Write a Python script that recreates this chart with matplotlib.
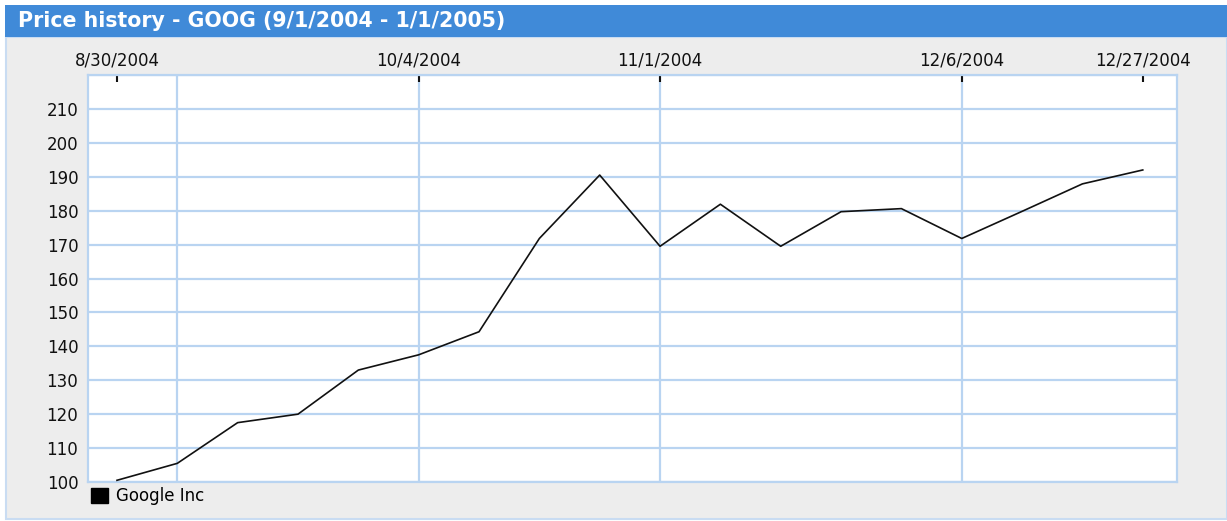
import matplotlib
matplotlib.use("Agg")
import matplotlib.pyplot as plt
import matplotlib.dates as mdates
from matplotlib.patches import Rectangle, Patch
import datetime as dt

# ---- data ----
dates = ["2004-08-30", "2004-09-06", "2004-09-13", "2004-09-20", "2004-09-27",
         "2004-10-04", "2004-10-11", "2004-10-18", "2004-10-25", "2004-11-01",
         "2004-11-08", "2004-11-15", "2004-11-22", "2004-11-29", "2004-12-06",
         "2004-12-13", "2004-12-20", "2004-12-27"]
prices = [100.5, 105.5, 117.5, 120.0, 133.0, 137.5, 144.3, 171.8, 190.5, 169.5,
          181.9, 169.5, 179.7, 180.6, 171.8, 179.8, 187.9, 192.0]
series_name = "Google Inc"
title = "Price history - GOOG (9/1/2004 - 1/1/2005)"
top_tick_dates = ["2004-08-30", "2004-10-04", "2004-11-01", "2004-12-06", "2004-12-27"]
top_tick_labels = ["8/30/2004", "10/4/2004", "11/1/2004", "12/6/2004", "12/27/2004"]
vgrid_dates = ["2004-09-06", "2004-10-04", "2004-11-01", "2004-12-06"]
y_ticks = list(range(100, 211, 10))

W, H = 1227, 521
fig = plt.figure(figsize=(W / 100, H / 100), dpi=100, facecolor="white")

BLUE = "#408AD8"
GRID = "#B9D4F1"
PANEL = "#EDEDED"

# panel background and title bar
fig.patches.append(Rectangle((6 / W, 2 / H), 1 - 6 / W, (519 - 37) / H,
                             transform=fig.transFigure, facecolor=PANEL,
                             edgecolor="#C9DCF2", linewidth=1.5, zorder=-10))
fig.patches.append(Rectangle((5 / W, (H - 37) / H), 1 - 5 / W, 32 / H,
                             transform=fig.transFigure, facecolor=BLUE,
                             edgecolor="none", zorder=-9))
fig.text(18 / W, (H - 21) / H, title, color="white", fontsize=14.8,
         fontweight="bold", va="center", ha="left", family="DejaVu Sans")

left, right, top, bottom = 88, 1177, 75, 482
ax = fig.add_axes([left / W, 1 - bottom / H, (right - left) / W, (bottom - top) / H])
ax.set_zorder(5)
ax.set_facecolor("white")

x = [mdates.date2num(dt.datetime.fromisoformat(d)) for d in dates]
x0 = mdates.date2num(dt.datetime(2004, 8, 30))
ax.set_xlim(x0 - 3.36, x0 + 122.97)
ax.set_ylim(100, 220)

# grid
for v in list(range(100, 221, 10)):
    ax.axhline(v, color=GRID, lw=1.6, zorder=1)
for d in vgrid_dates:
    ax.axvline(mdates.date2num(dt.datetime.fromisoformat(d)), color=GRID, lw=1.6, zorder=1)

ax.plot(x, prices, color="#111111", lw=1.2, zorder=3)

for s in ax.spines.values():
    s.set_color(GRID)
    s.set_linewidth(1.6)

ax.set_yticks(y_ticks)
ax.set_yticklabels([str(v) for v in y_ticks], fontsize=12)
ax.tick_params(axis="y", length=0, pad=7, colors="#111111")

ax.xaxis.tick_top()
ax.set_xticks([mdates.date2num(dt.datetime.fromisoformat(d)) for d in top_tick_dates])
ax.set_xticklabels(top_tick_labels, fontsize=12)
ax.tick_params(axis="x", direction="in", length=5, width=1.5, color="#111111",
               pad=4, labelcolor="#111111")
ax.tick_params(axis="x", which="both", bottom=False, labelbottom=False)

leg = ax.legend([Patch(facecolor="black", edgecolor="black")], [series_name],
                loc="upper left", bbox_to_anchor=(0.0, -0.005), frameon=False,
                fontsize=12, handlelength=1.0, handleheight=1.0, handletextpad=0.5,
                borderaxespad=0, borderpad=0.2)

fig.savefig("out.png", dpi=100, facecolor=fig.get_facecolor())
